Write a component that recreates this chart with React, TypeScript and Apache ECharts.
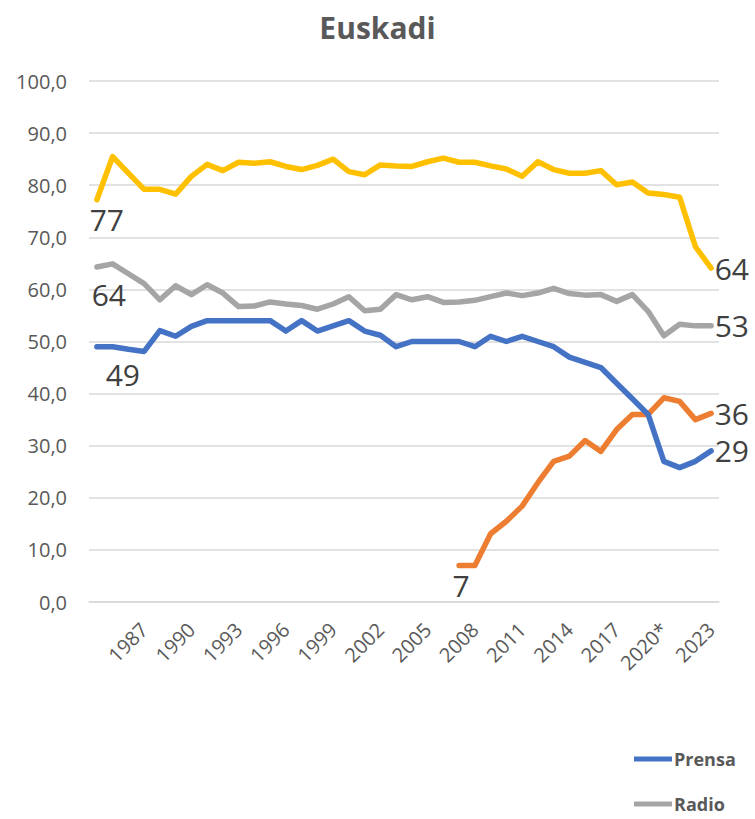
import React, { useEffect, useRef } from "react";
import * as echarts from "echarts";

const years: string[] = [
  "1984", "1985", "1986", "1987", "1988", "1989", "1990", "1991", "1992", "1993",
  "1994", "1995", "1996", "1997", "1998", "1999", "2000", "2001", "2002", "2003",
  "2004", "2005", "2006", "2007", "2008", "2009", "2010", "2011", "2012", "2013",
  "2014", "2015", "2016", "2017", "2018", "2019", "2020*", "2021", "2022", "2023",
];

const television: number[] = [
  77.2, 85.5, 82.3, 79.2, 79.2, 78.3, 81.7, 84.0, 82.8, 84.4,
  84.2, 84.5, 83.6, 83.0, 83.8, 85.0, 82.6, 82.0, 83.9, 83.7,
  83.6, 84.5, 85.2, 84.4, 84.4, 83.7, 83.1, 81.7, 84.5, 83.0,
  82.3, 82.3, 82.8, 80.1, 80.6, 78.5, 78.2, 77.7, 68.2, 64.1,
];

const radio: number[] = [
  64.3, 64.9, 63.0, 61.1, 58.0, 60.7, 59.0, 60.9, 59.3, 56.7,
  56.8, 57.6, 57.2, 56.9, 56.2, 57.2, 58.6, 55.9, 56.2, 59.0,
  58.0, 58.6, 57.5, 57.6, 57.9, 58.6, 59.3, 58.8, 59.3, 60.2,
  59.2, 58.9, 59.0, 57.7, 59.0, 55.8, 51.1, 53.3, 53.0, 53.0,
];

const prensa: number[] = [
  49.0, 49.0, 48.5, 48.1, 52.1, 51.0, 52.9, 54.0, 54.0, 54.0,
  54.0, 54.0, 52.0, 54.0, 52.0, 53.0, 54.0, 52.0, 51.2, 49.0,
  50.0, 50.0, 50.0, 50.0, 49.0, 51.0, 50.0, 51.0, 50.0, 49.0,
  47.0, 46.0, 45.0, 42.0, 39.0, 36.0, 27.0, 25.8, 27.0, 29.0,
];

const internet: (number | null)[] = [
  null, null, null, null, null, null, null, null, null, null,
  null, null, null, null, null, null, null, null, null, null,
  null, null, null, 7.0, 7.0, 13.1, 15.5, 18.4, 22.9, 27.0,
  28.0, 31.0, 28.9, 33.1, 36.0, 36.0, 39.2, 38.5, 35.0, 36.2,
];

const FONT = "'Open Sans', 'Noto Sans', sans-serif";
const LABEL_COLOR = "#404040";
const AXIS_COLOR = "#595959";

function withLabels(arr: (number | null)[], firstOffset: [number, number]) {
  const first = arr.findIndex((v) => v !== null);
  const last = arr.length - 1;
  const base = {
    show: true,
    fontSize: 30,
    fontFamily: FONT,
    color: LABEL_COLOR,
    formatter: (p: any) => String(Math.round(p.value)),
  };
  return arr.map((v, i) => {
    if (i === first) {
      return { value: v, label: { ...base, position: "inside", offset: firstOffset } };
    }
    if (i === last) {
      return { value: v, label: { ...base, position: "right", distance: 3 } };
    }
    return v;
  });
}

function makeSeries(name: string, arr: (number | null)[], color: string, off: [number, number]) {
  return {
    name,
    type: "line",
    data: withLabels(arr, off),
    showSymbol: true,
    symbol: "circle",
    symbolSize: 1,
    itemStyle: { color },
    lineStyle: { color, width: 5.5, cap: "round", join: "round" },
    label: { show: false },
    emphasis: { disabled: true },
    z: 2,
  };
}

function legendFor(name: string, top: number) {
  return {
    data: [name],
    orient: "horizontal",
    left: 634,
    top,
    padding: 0,
    icon: "rect",
    itemWidth: 38,
    itemHeight: 5,
    itemGap: 0,
    selectedMode: false,
    textStyle: {
      fontFamily: FONT,
      fontSize: 18,
      fontWeight: "bold",
      color: AXIS_COLOR,
      padding: [0, 0, 0, -3],
    },
  };
}

export default function App() {
  const ref = useRef<HTMLDivElement>(null);
  useEffect(() => {
    if (!ref.current) return;
    const chart = echarts.init(ref.current, undefined, { renderer: "svg" });
    chart.setOption({
      animation: false,
      backgroundColor: "#ffffff",
      title: {
        text: "Euskadi",
        left: "center",
        top: 7,
        textStyle: { fontFamily: FONT, fontSize: 30, fontWeight: "bold", color: AXIS_COLOR },
      },
      legend: [legendFor("Prensa", 750), legendFor("Radio", 795)],
      grid: { left: 89, right: 36, top: 81, bottom: 217, containLabel: false },
      xAxis: {
        type: "category",
        data: years,
        boundaryGap: true,
        axisLine: { show: true, lineStyle: { color: "#D9D9D9", width: 1.5 } },
        axisTick: { show: false },
        axisLabel: {
          rotate: 45,
          margin: 24,
          fontFamily: FONT,
          fontSize: 20,
          color: AXIS_COLOR,
          interval: (index: number) => index > 0 && index % 3 === 0,
        },
      },
      yAxis: {
        type: "value",
        min: 0,
        max: 100,
        interval: 10,
        axisLine: { show: false },
        axisTick: { show: false },
        splitLine: { lineStyle: { color: "#D9D9D9", width: 1.5 } },
        axisLabel: {
          margin: 22,
          fontFamily: FONT,
          fontSize: 20,
          color: AXIS_COLOR,
          formatter: (v: number) => v.toFixed(1).replace(".", ","),
        },
      },
      series: [
        makeSeries("Internet", internet, "#ED7D31", [2, 20]),
        makeSeries("Televisión", television, "#FFC000", [10, 20]),
        makeSeries("Radio", radio, "#A5A5A5", [12, 28]),
        makeSeries("Prensa", prensa, "#4472C4", [26, 28]),
      ],
    });
    return () => chart.dispose();
  }, []);
  return (
    <div
      ref={ref}
      style={{ position: "fixed", left: 0, top: 0, width: 755, height: 819 }}
    />
  );
}
